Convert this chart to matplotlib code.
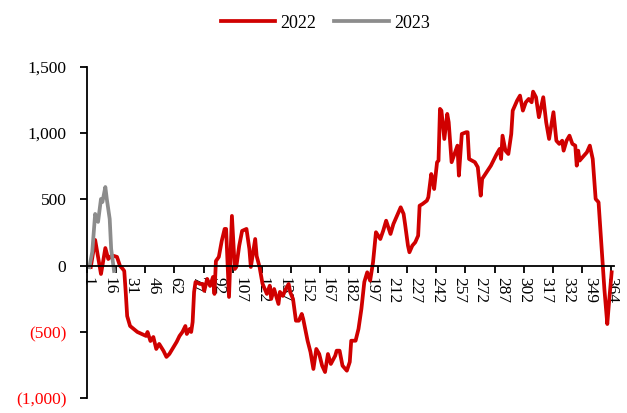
import matplotlib.pyplot as plt
import numpy as np

# category positions (trading-day index) and values
idx_2022 = [2, 5, 9, 10, 12, 14, 16, 18, 20, 22, 24, 25, 26, 27, 29, 34, 40, 41, 43, 45,
            47, 49, 52, 54, 56, 61, 63, 65, 67, 68, 70, 71, 72, 73, 74, 77, 79, 80, 82, 84,
            86, 87, 88, 90, 92, 94, 95, 97, 99, 101, 102, 104, 106, 109, 111, 112, 115, 116, 118, 120,
            123, 125, 126, 128, 131, 132, 134, 136, 138, 139, 141, 143, 145, 147, 148, 151, 153, 155, 157, 159,
            161, 163, 165, 167, 170, 171, 173, 175, 178, 180, 181, 184, 186, 188, 190, 192, 194, 196, 198, 201,
            203, 205, 208, 210, 213, 215, 217, 218, 220, 221, 223, 225, 227, 228, 230, 233, 234, 236, 237, 238,
            240, 241, 242, 243, 245, 247, 248, 250, 252, 254, 255, 257, 260, 261, 262, 266, 268, 270, 271, 274,
            277, 281, 283, 284, 285, 287, 289, 291, 292, 295, 297, 299, 301, 303, 305, 306, 308, 310, 313, 315,
            317, 320, 322, 324, 326, 327, 329, 331, 333, 335, 336, 337, 338, 340, 343, 345, 347, 349, 351, 353,
            355, 357, 358, 360]
val_2022 = [-10, 194, -63, 0, 133, 50, 73, 73, 66, 0, -25, -40, -198, -380, -455, -500, -530, -500, -568, -538,
            -628, -590, -643, -688, -666, -575, -530, -500, -455, -515, -477, -500, -425, -198, -123, -138, -138, -190, -100, -153,
            -85, -213, 35, 66, 186, 277, 277, -236, 375, -25, -10, 149, 262, 277, 126, -10, 201, 73, -10, -135,
            -213, -151, -251, -176, -289, -198, -228, -176, -138, -198, -251, -415, -415, -364, -402, -566, -651, -779, -628, -666,
            -754, -802, -666, -741, -679, -641, -641, -754, -792, -726, -566, -566, -477, -326, -123, -50, -113, 26, 252, 201,
            264, 339, 239, 314, 390, 440, 390, 314, 151, 101, 151, 176, 226, 452, 465, 490, 516, 691, 654, 578,
            780, 792, 1182, 1169, 955, 1144, 1081, 780, 842, 905, 679, 993, 1006, 1006, 804, 780, 742, 528, 654, 704,
            754, 842, 880, 804, 980, 867, 842, 993, 1169, 1244, 1282, 1169, 1232, 1257, 1232, 1312, 1270, 1119, 1270, 1081,
            955, 1157, 942, 918, 942, 867, 942, 980, 918, 905, 754, 867, 792, 817, 855, 905, 804, 503, 478, 151,
            -176, -440, -302, -50]

idx_2023 = [1, 3, 5, 7, 9, 10, 12, 13, 15, 16, 18]
val_2023 = [-12, 103, 390, 330, 503, 480, 593, 503, 352, 126, -40]

xtick_labels = ['1', '16', '31', '46', '62', '77', '92', '107', '122', '137', '152', '167', '182',
                '197', '212', '227', '242', '257', '272', '287', '302', '317', '332', '349', '364']
ytick_vals = [-1000, -500, 0, 500, 1000, 1500]

plt.rcParams['font.family'] = ['Liberation Serif', 'DejaVu Serif']

fig = plt.figure(figsize=(6.27, 4.13), dpi=100)
ax = fig.add_axes([0.139, 0.0356, 0.840, 0.8029])

ax.plot(idx_2022, val_2022, color='#D00000', lw=2.7, solid_joinstyle='round', label='2022')
ax.plot(idx_2023, val_2023, color='#8C8C8C', lw=2.7, solid_joinstyle='round', label='2023')

ax.set_xlim(-0.5, 361.5)
ax.set_ylim(-1000, 1500)

for s in ['top', 'right']:
    ax.spines[s].set_visible(False)
ax.spines['bottom'].set_position(('data', 0))
ax.spines['left'].set_linewidth(1.3)
ax.spines['bottom'].set_linewidth(1.3)

# labels every 15 categories, tick marks every 20
ax.set_xticks(np.arange(len(xtick_labels)) * 15)
ax.set_xticklabels(xtick_labels, rotation=-90, fontsize=12.5)
ax.tick_params(axis='x', which='major', length=0, pad=8)
ax.set_xticks(np.arange(-0.5, 361, 20), minor=True)
ax.tick_params(axis='x', which='minor', length=5, width=1.3, direction='out')

ax.set_yticks(ytick_vals)
ylabels = []
for v in ytick_vals:
    if v < 0:
        ylabels.append('({:,})'.format(-v))
    else:
        ylabels.append('{:,}'.format(v))
ax.set_yticklabels(ylabels, fontsize=12.5)
ax.tick_params(axis='y', length=5, width=1.3, direction='out', pad=10)
for lab, v in zip(ax.get_yticklabels(), ytick_vals):
    if v < 0:
        lab.set_color('#FF0000')

fig.legend(loc='center', bbox_to_anchor=(0.519, 0.944), ncol=2, frameon=False,
           fontsize=13, handlelength=3.0, columnspacing=1.0, handletextpad=0.3)

plt.savefig('out.png', dpi=100)
plt.close()
